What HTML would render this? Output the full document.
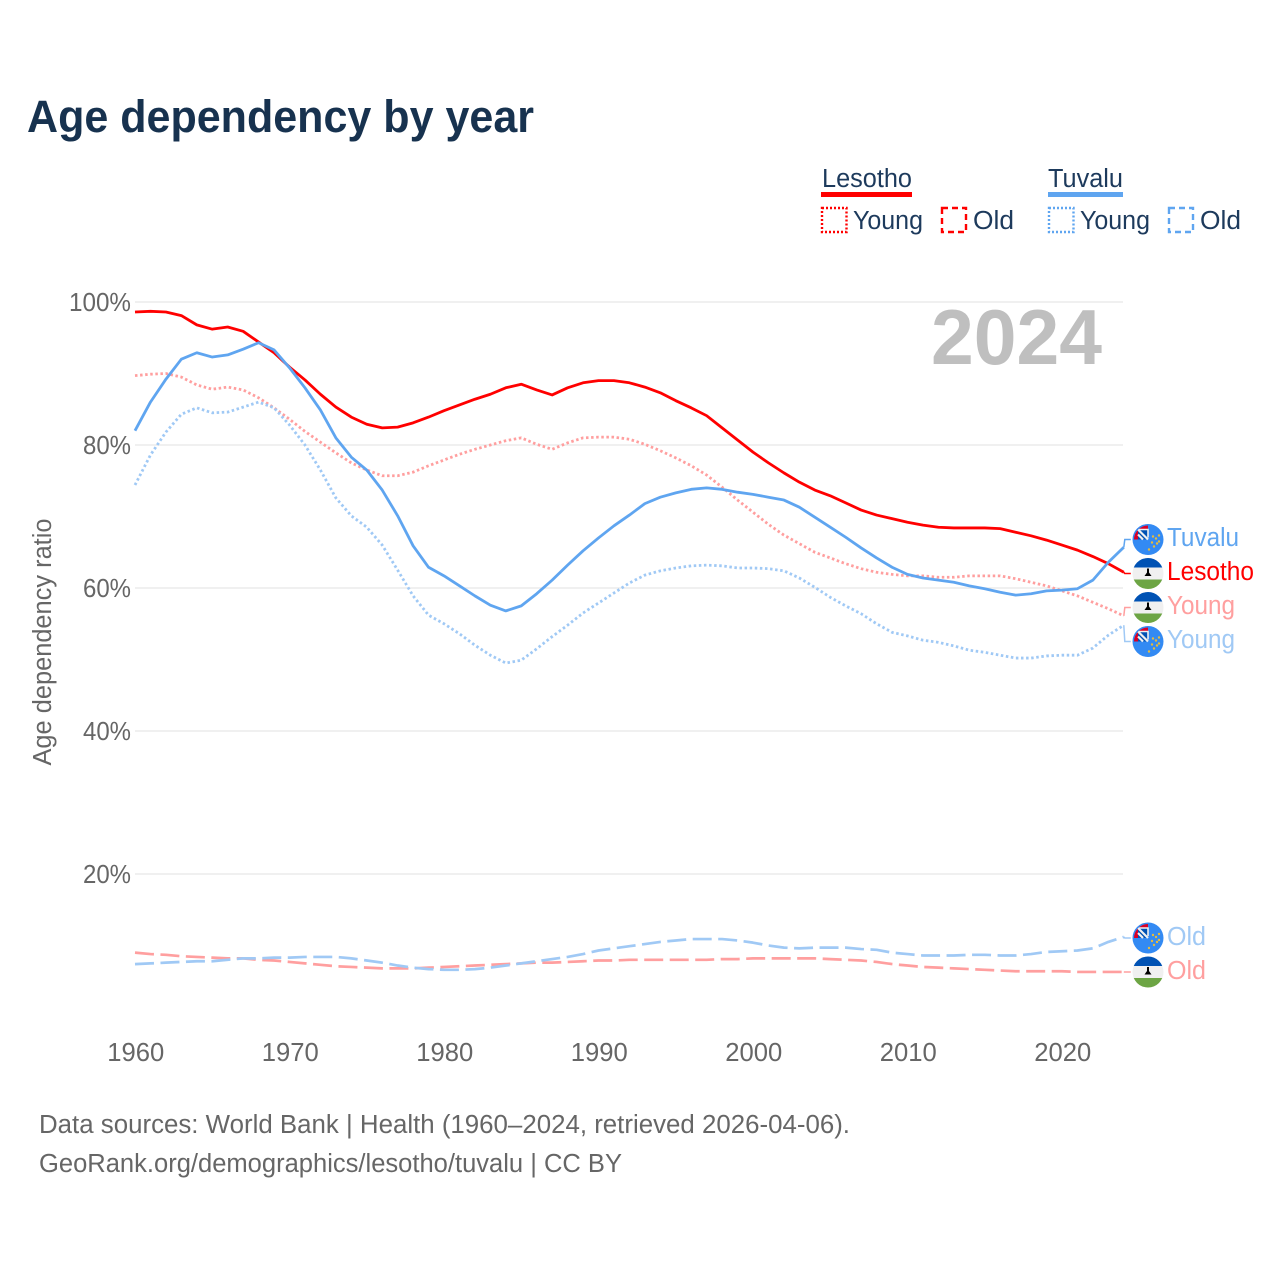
<!DOCTYPE html>
<html lang="en">
<head>
<meta charset="utf-8">
<title>Age dependency by year</title>
<style>
html,body{margin:0;padding:0;background:#fff;}
svg{display:block;font-family:"Liberation Sans",sans-serif;}
</style>
</head>
<body>
<svg id="chart" xmlns="http://www.w3.org/2000/svg" width="1280" height="1280" viewBox="0 0 1280 1280">
<defs>
<clipPath id="tv-corner"><circle cx="0" cy="0" r="14"/></clipPath>
<g id="flag-tuvalu">
  <circle r="15.5" fill="#338af3"/>
  <g clip-path="url(#tv-corner)">
    <rect x="-15" y="-15" width="15" height="15" fill="#d80027"/>
    <rect x="-10" y="-10" width="10" height="10" fill="#0052b4"/>
    <path d="M-10-10L0 0M-10-5L-5 0" stroke="#f0f0f0" stroke-width="2.2" fill="none"/>
    <path d="M-10-10H0V-2" stroke="#f0f0f0" stroke-width="1.6" fill="none"/>
  </g>
  <g fill="#e6bb3c">
    <circle cx="11" cy="-4" r="1.2"/><circle cx="8" cy="-1" r="1.2"/><circle cx="11" cy="2" r="1.2"/><circle cx="4" cy="3" r="1.2"/><circle cx="9" cy="4" r="1.2"/><circle cx="6" cy="7" r="1.2"/><circle cx="1" cy="10" r="1.2"/><circle cx="5" cy="-3" r="1.2"/>
  </g>
</g>
<clipPath id="ls-clip"><circle cx="0" cy="0" r="15.5"/></clipPath>
<g id="flag-lesotho">
  <g clip-path="url(#ls-clip)">
    <rect x="-16" y="-16" width="32" height="10" fill="#0052b4"/>
    <rect x="-16" y="-6" width="32" height="12" fill="#f0f0f0"/>
    <rect x="-16" y="6" width="32" height="10" fill="#6da544"/>
  </g>
  <path d="M-1-5H1V-1L3.500 2.500H-3.500L-1-1Z" fill="#000"/>
</g>
</defs>

<text x="27" y="132" font-size="45" font-weight="700" fill="#17324f" textLength="507" lengthAdjust="spacingAndGlyphs">Age dependency by year</text>

<g fill="#1d3a5c" font-size="25.500">
  <text x="822" y="187" textLength="90" lengthAdjust="spacingAndGlyphs">Lesotho</text>
  <rect x="821" y="192" width="91" height="5" fill="#ff0000"/>
  <text x="1048" y="187" textLength="75" lengthAdjust="spacingAndGlyphs">Tuvalu</text>
  <rect x="1048" y="192" width="75" height="5" fill="#5fa5f0"/>
  <rect x="822" y="208" width="24.500" height="24" fill="none" stroke="#ff0000" stroke-width="2.400" stroke-dasharray="2 2"/>
  <text x="853" y="229" textLength="70" lengthAdjust="spacingAndGlyphs">Young</text>
  <rect x="942" y="208" width="24" height="24" fill="none" stroke="#ff0000" stroke-width="2.400" stroke-dasharray="6 4"/>
  <text x="973" y="229" textLength="41" lengthAdjust="spacingAndGlyphs">Old</text>
  <rect x="1049" y="208" width="24.500" height="24" fill="none" stroke="#5fa5f0" stroke-width="2.400" stroke-dasharray="2 2"/>
  <text x="1080" y="229" textLength="70" lengthAdjust="spacingAndGlyphs">Young</text>
  <rect x="1169" y="208" width="24" height="24" fill="none" stroke="#5fa5f0" stroke-width="2.400" stroke-dasharray="6 4"/>
  <text x="1200" y="229" textLength="41" lengthAdjust="spacingAndGlyphs">Old</text>
</g>

<g id="grid"></g>
<g id="yticks" fill="#666" font-size="25.500"></g>
<g id="xticks" fill="#666" font-size="25.500"></g>

<text transform="translate(51,642) rotate(-90)" text-anchor="middle" fill="#666" font-size="25.500" textLength="247" lengthAdjust="spacingAndGlyphs">Age dependency ratio</text>

<text x="931" y="364" font-size="78" font-weight="700" fill="#bfbfbf" textLength="171" lengthAdjust="spacingAndGlyphs">2024</text>

<g id="series" fill="none" stroke-linejoin="round"></g>
<g id="leaders" fill="none" stroke-width="1.500"></g>

<g font-size="25.500">
  <use href="#flag-tuvalu" x="1148" y="539.500"/>
  <text x="1167" y="546" fill="#5fa5f0" textLength="72" lengthAdjust="spacingAndGlyphs">Tuvalu</text>
  <use href="#flag-lesotho" x="1148" y="573.500"/>
  <text x="1167" y="580" fill="#ff0000" textLength="87" lengthAdjust="spacingAndGlyphs">Lesotho</text>
  <use href="#flag-lesotho" x="1148" y="607.500"/>
  <text x="1167" y="614" fill="#ff9f9f" textLength="68" lengthAdjust="spacingAndGlyphs">Young</text>
  <use href="#flag-tuvalu" x="1148" y="641.500"/>
  <text x="1167" y="648" fill="#a0c9f5" textLength="68" lengthAdjust="spacingAndGlyphs">Young</text>
  <use href="#flag-tuvalu" x="1148" y="938"/>
  <text x="1167" y="945" fill="#a0c9f5" textLength="39" lengthAdjust="spacingAndGlyphs">Old</text>
  <use href="#flag-lesotho" x="1148" y="972"/>
  <text x="1167" y="979" fill="#ff9f9f" textLength="39" lengthAdjust="spacingAndGlyphs">Old</text>
</g>

<g fill="#666" font-size="25.500">
  <text x="39" y="1133" textLength="811" lengthAdjust="spacingAndGlyphs">Data sources: World Bank | Health (1960–2024, retrieved 2026-04-06).</text>
  <text x="39" y="1172" textLength="583" lengthAdjust="spacingAndGlyphs">GeoRank.org/demographics/lesotho/tuvalu | CC BY</text>
</g>
</svg>

<script>
var startYear = 1960;
var xTickYears = [1960, 1970, 1980, 1990, 2000, 2010, 2020];
var yTickValues = [20, 40, 60, 80, 100];
var yTickLabels = ["20%", "40%", "60%", "80%", "100%"];

var lesothoTotal = [98.6,98.7,98.6,98.1,96.8,96.2,96.5,95.9,94.4,92.9,90.9,89.1,87.1,85.3,83.9,82.9,82.4,82.5,83.1,83.9,84.8,85.6,86.4,87.1,88.0,88.5,87.7,87.0,88.0,88.7,89.0,89.0,88.7,88.1,87.3,86.2,85.2,84.1,82.4,80.7,79.0,77.5,76.1,74.8,73.7,72.9,71.9,70.9,70.2,69.7,69.2,68.8,68.5,68.4,68.4,68.4,68.3,67.8,67.3,66.7,66.0,65.3,64.4,63.4,62.2];
var tuvaluTotal = [82.0,86.0,89.2,92.0,92.9,92.3,92.6,93.4,94.3,93.3,90.8,88.0,84.9,81.0,78.3,76.5,73.7,70.1,65.9,62.9,61.7,60.3,58.9,57.6,56.8,57.5,59.2,61.1,63.2,65.2,67.0,68.7,70.2,71.8,72.7,73.3,73.8,74.0,73.8,73.4,73.1,72.7,72.3,71.3,69.9,68.5,67.1,65.6,64.2,62.9,61.9,61.4,61.1,60.8,60.3,59.9,59.4,59.0,59.2,59.6,59.7,59.9,61.1,63.6,65.7];
var lesothoYoung = [89.7,89.9,90.0,89.5,88.4,87.8,88.1,87.7,86.6,85.2,83.6,81.9,80.4,78.9,77.5,76.5,75.7,75.7,76.2,77.1,77.9,78.7,79.4,80.0,80.6,81.0,80.1,79.4,80.3,81.0,81.1,81.1,80.8,80.1,79.2,78.2,77.1,75.8,74.1,72.3,70.6,68.9,67.4,66.2,65.0,64.2,63.4,62.7,62.2,61.9,61.7,61.7,61.5,61.5,61.7,61.7,61.7,61.3,60.8,60.3,59.6,58.9,58.0,57.1,56.1];
var tuvaluYoung = [74.4,78.6,81.8,84.3,85.2,84.5,84.6,85.3,86.0,85.2,82.8,80.0,76.5,72.6,70.1,68.5,66.0,62.5,58.9,56.2,55.0,53.6,52.0,50.6,49.5,49.9,51.5,53.2,54.8,56.5,57.9,59.3,60.7,61.8,62.4,62.8,63.1,63.2,63.1,62.8,62.8,62.7,62.4,61.4,60.1,58.7,57.5,56.4,55.0,53.8,53.3,52.7,52.4,51.9,51.3,51.0,50.6,50.2,50.2,50.5,50.6,50.6,51.6,53.4,54.8];
var lesothoOld = [9.0,8.8,8.7,8.5,8.4,8.3,8.2,8.2,8.0,7.9,7.7,7.5,7.3,7.1,7.0,6.9,6.8,6.8,6.8,6.9,7.0,7.1,7.2,7.3,7.4,7.5,7.6,7.6,7.7,7.8,7.9,7.9,8.0,8.0,8.0,8.0,8.0,8.0,8.1,8.1,8.2,8.2,8.2,8.2,8.2,8.1,8.0,7.9,7.7,7.4,7.2,7.0,6.9,6.8,6.7,6.6,6.5,6.4,6.4,6.4,6.4,6.3,6.3,6.3,6.3];
var tuvaluOld = [7.4,7.5,7.6,7.7,7.8,7.8,8.0,8.2,8.2,8.3,8.3,8.4,8.4,8.4,8.2,7.9,7.6,7.2,6.9,6.7,6.6,6.6,6.7,6.9,7.2,7.5,7.8,8.1,8.4,8.8,9.3,9.6,9.9,10.2,10.5,10.7,10.9,10.9,10.9,10.7,10.4,10.0,9.7,9.6,9.7,9.7,9.7,9.5,9.4,9.0,8.8,8.6,8.6,8.6,8.7,8.7,8.6,8.6,8.8,9.1,9.2,9.3,9.6,10.5,11.2];

var NS = "http://www.w3.org/2000/svg";
function xScale(year) { return 135 + (year - 1960) * 15.45; }
function yScale(v) { return 1017 - v * 7.15; }

var gridG = document.getElementById("grid");
var yG = document.getElementById("yticks");
yTickValues.forEach(function (v, i) {
  var l = document.createElementNS(NS, "line");
  
  
  l.setAttribute("x1", 135);
  l.setAttribute("x2", 1123);
  l.setAttribute("y1", yScale(v));
  l.setAttribute("y2", yScale(v));
  l.setAttribute("stroke", "#e6e6e6");
  l.setAttribute("stroke-width", "1.2");
  gridG.appendChild(l);
  var t = document.createElementNS(NS, "text");
  
  
  t.setAttribute("x", 131);
  t.setAttribute("y", yScale(v) + 9);
  t.setAttribute("text-anchor", "end");
  t.setAttribute("textLength", yTickLabels[i].length === 4 ? 62 : 48);
  t.setAttribute("lengthAdjust", "spacingAndGlyphs");
  t.textContent = yTickLabels[i];
  yG.appendChild(t);
});

var xG = document.getElementById("xticks");
xTickYears.forEach(function (yr) {
  var t = document.createElementNS(NS, "text");
  
  
  t.setAttribute("x", xScale(yr) + 0.8);
  t.setAttribute("y", 1061);
  t.setAttribute("text-anchor", "middle");
  t.setAttribute("textLength", 57);
  t.setAttribute("lengthAdjust", "spacingAndGlyphs");
  t.textContent = String(yr);
  xG.appendChild(t);
});

function drawLine(values, name, color, width, dash) {
  var pts = values.map(function (v, i) {
    return xScale(startYear + i).toFixed(2) + "," + yScale(v).toFixed(2);
  }).join(" ");
  var p = document.createElementNS(NS, "polyline");
  
  
  p.setAttribute("points", pts);
  p.setAttribute("stroke", color);
  p.setAttribute("stroke-width", width);
  if (dash) { p.setAttribute("stroke-dasharray", dash); }
  document.getElementById("series").appendChild(p);
}

drawLine(lesothoOld, "line-lesotho-old", "#ff9f9f", 2.7, "19 6.5");
drawLine(tuvaluOld, "line-tuvalu-old", "#a0c9f5", 2.7, "19 6.5");
drawLine(lesothoYoung, "line-lesotho-young", "#ff9f9f", 2.8, "2.5 2.6");
drawLine(tuvaluYoung, "line-tuvalu-young", "#a0c9f5", 2.8, "2.5 2.6");
drawLine(lesothoTotal, "line-lesotho-total", "#ff0000", 2.8, "");
drawLine(tuvaluTotal, "line-tuvalu-total", "#5fa5f0", 2.8, "");

function drawLeader(values, labelY, name, color) {
  var last = values[values.length - 1];
  var xEnd = xScale(startYear + values.length - 1);
  var p = document.createElementNS(NS, "polyline");
  
  
  p.setAttribute("points", xEnd + "," + yScale(last) + " " + (xEnd + 1) + "," + labelY + " " + (xEnd + 7) + "," + labelY);
  p.setAttribute("stroke", color);
  document.getElementById("leaders").appendChild(p);
}
drawLeader(tuvaluTotal, 539.5, "leader-tuvalu-total", "#5fa5f0");
drawLeader(lesothoTotal, 573.5, "leader-lesotho-total", "#ff0000");
drawLeader(lesothoYoung, 607.5, "leader-lesotho-young", "#ff9f9f");
drawLeader(tuvaluYoung, 641.5, "leader-tuvalu-young", "#a0c9f5");
drawLeader(tuvaluOld, 938, "leader-tuvalu-old", "#a0c9f5");
drawLeader(lesothoOld, 972, "leader-lesotho-old", "#ff9f9f");
</script>
</body>
</html>
